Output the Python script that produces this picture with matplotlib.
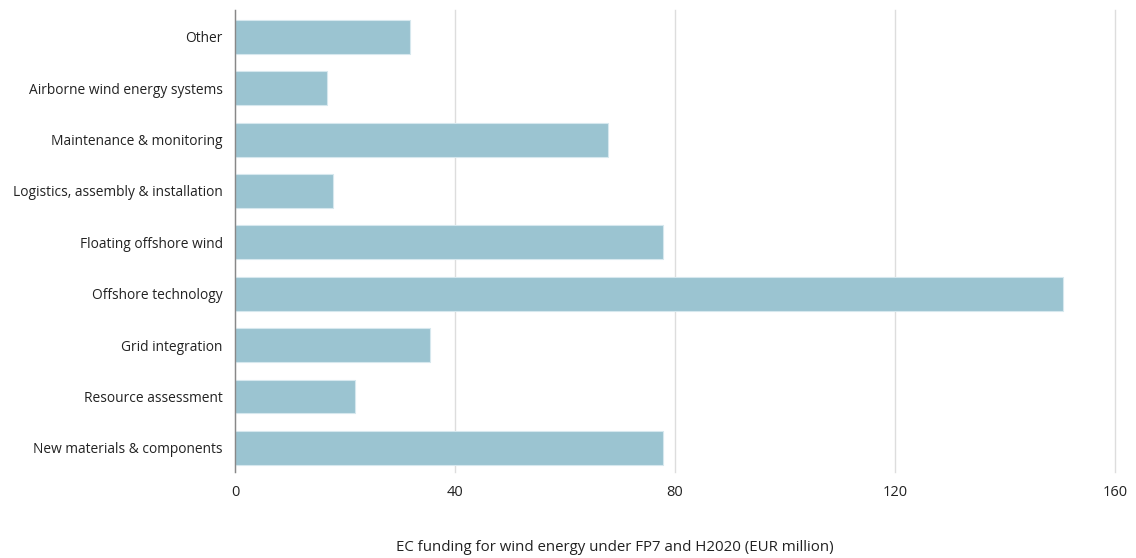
import matplotlib
matplotlib.use("Agg")
import matplotlib.pyplot as plt

# categories bottom-to-top as drawn
categories = [
    "New materials & components",
    "Resource assessment",
    "Grid integration",
    "Offshore technology",
    "Floating offshore wind",
    "Logistics, assembly & installation",
    "Maintenance & monitoring",
    "Airborne wind energy systems",
    "Other",
]
funding = [77.8, 21.8, 35.5, 150.5, 77.8, 17.8, 67.8, 16.7, 31.8]
xticks = [0, 40, 80, 120, 160]

plt.rcParams['font.family'] = ['Open Sans', 'DejaVu Sans']

fig = plt.figure(figsize=(11.36, 5.58), dpi=100)
ax = fig.add_axes([0.2069, 0.154, 0.7746, 0.828])

ypos = range(len(categories))
ax.barh(ypos, funding, height=0.66, color='#9bc4d1', edgecolor='#d6e8ee',
        linewidth=0.8, zorder=2)

ax.set_xlim(0, 160)
ax.set_ylim(-0.47, len(categories) - 0.48)
ax.set_xticks(xticks)
ax.set_xticklabels([str(t) for t in xticks], fontsize=10.5, color='#222222')
ax.set_yticks(list(ypos))
ax.set_yticklabels(categories, fontsize=9.9, color='#222222')
ax.tick_params(axis='both', length=0)
ax.tick_params(axis='y', pad=9)
ax.tick_params(axis='x', pad=9)

ax.grid(axis='x', color='#dddddd', linewidth=1, zorder=0)
for gl in ax.get_xgridlines():
    gl.set_clip_on(False)
for s in ['top', 'right', 'bottom']:
    ax.spines[s].set_visible(False)
ax.spines['left'].set_color('#888888')
ax.spines['left'].set_linewidth(1)
ax.spines['left'].set_zorder(3)

ax.set_xlabel("EC funding for wind energy under FP7 and H2020 (EUR million)",
              fontsize=10.8, color='#222222')
ax.xaxis.set_label_coords(0.432, -0.147)

fig.savefig("out.png", dpi=100)
